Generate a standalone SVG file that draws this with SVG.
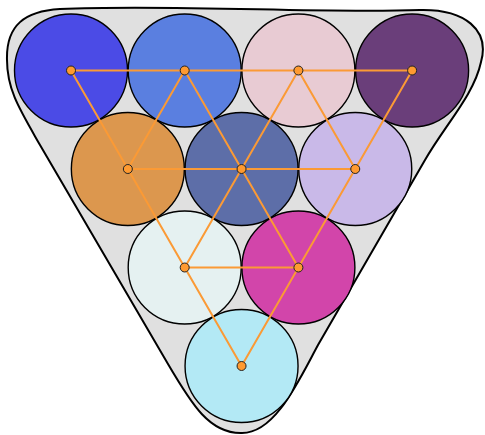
<svg xmlns="http://www.w3.org/2000/svg" width="485" height="435" viewBox="0 0 485 435">
<style>
.ball{stroke:#000;stroke-width:1.4}
.edge{stroke:#fb9a35;stroke-width:2;fill:none}
.dot{fill:#ff9a30;stroke:#222;stroke-width:1}
.rack{fill:#e0e0e0;stroke:#000;stroke-width:2}
</style>
<path class="rack" d="M 60,9 C 180,4 320,14 420,10 C 465,9 490,30 481,62 C 474,95 445,125 425,160 L 318,345 C 298,382 275,433 242,433 C 210,434 192,405 168,364 L 40,145 C 20,110 7,90 7,60 C 6,25 25,11 60,9 Z"/>
<g id="balls">
<g id="n1"><circle class="ball" cx="71" cy="70.5" r="56.5" fill="#4b4be6"/></g>
<g id="n2"><circle class="ball" cx="184.7" cy="70.5" r="56.5" fill="#5a7fe0"/></g>
<g id="n3"><circle class="ball" cx="298.4" cy="70.5" r="56.5" fill="#e8cbd3"/></g>
<g id="n4"><circle class="ball" cx="412.1" cy="70.5" r="56.5" fill="#6a3e7a"/></g>
<g id="n5"><circle class="ball" cx="127.85" cy="169" r="56.5" fill="#dc974e"/></g>
<g id="n6"><circle class="ball" cx="241.55" cy="169" r="56.5" fill="#5d6ea8"/></g>
<g id="n7"><circle class="ball" cx="355.25" cy="169" r="56.5" fill="#c9b9e8"/></g>
<g id="n8"><circle class="ball" cx="184.7" cy="267.5" r="56.5" fill="#e5f1f1"/></g>
<g id="n9"><circle class="ball" cx="298.4" cy="267.5" r="56.5" fill="#d245aa"/></g>
<g id="n10"><circle class="ball" cx="241.55" cy="366" r="56.5" fill="#b3e9f5"/></g>
</g>
<g id="connectors">
<path class="edge" d="M71,70.5 L412.1,70.5 M127.85,169 L355.25,169 M184.7,267.5 L298.4,267.5"/>
<path class="edge" d="M71,70.5 L241.55,366 L412.1,70.5"/>
<path class="edge" d="M184.7,70.5 L298.4,267.5 M298.4,70.5 L355.25,169"/>
<path class="edge" d="M298.4,70.5 L184.7,267.5 M184.7,70.5 L127.85,169"/>
</g>
<g id="dots">
<circle class="dot" cx="71" cy="70.5" r="4.5"/>
<circle class="dot" cx="184.7" cy="70.5" r="4.5"/>
<circle class="dot" cx="298.4" cy="70.5" r="4.5"/>
<circle class="dot" cx="412.1" cy="70.5" r="4.5"/>
<circle class="dot" cx="127.85" cy="169" r="4.5"/>
<circle class="dot" cx="241.55" cy="169" r="4.5"/>
<circle class="dot" cx="355.25" cy="169" r="4.5"/>
<circle class="dot" cx="184.7" cy="267.5" r="4.5"/>
<circle class="dot" cx="298.4" cy="267.5" r="4.5"/>
<circle class="dot" cx="241.55" cy="366" r="4.5"/>
</g>
</svg>
